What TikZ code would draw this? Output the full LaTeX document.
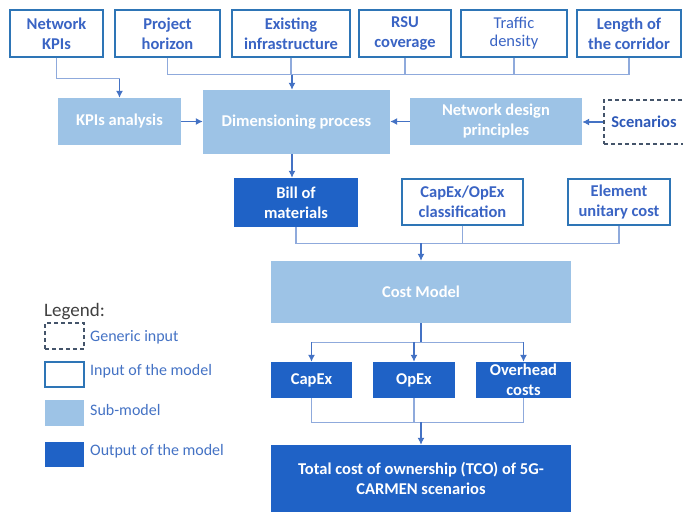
\documentclass[tikz,border=0pt]{standalone}
\usepackage{fontspec}
\setmainfont{Carlito}
\usetikzlibrary{arrows.meta}
\definecolor{inborder}{HTML}{2E75B6}
\definecolor{intext}{HTML}{3A64C4}
\definecolor{lightfill}{HTML}{9DC3E6}
\definecolor{darkfill}{HTML}{1F62C6}
\definecolor{feedc}{HTML}{8FAADC}
\definecolor{arrc}{HTML}{4472C4}
\definecolor{dashc}{HTML}{44546A}
\definecolor{legtext}{HTML}{4472C4}
\definecolor{legtitle}{HTML}{404040}
\definecolor{scentext}{HTML}{2E59B8}
\begin{document}
\begin{tikzpicture}[x=1pt,y=-1pt,
  base/.style={inner sep=0pt, align=center, font=\fontsize{16.5}{20}\selectfont\bfseries},
  inbox/.style={base, draw=inborder, line width=1.2pt, fill=white, text=intext},
  subbox/.style={base, fill=lightfill, text=white},
  outbox/.style={base, fill=darkfill, text=white},
  genbox/.style={base, draw=dashc, line width=1.2pt, dash pattern=on 4pt off 3pt, text=scentext},
  feed/.style={draw=feedc, line width=1.2pt},
  arr/.style={draw=arrc, line width=1.2pt, -{Latex[length=7pt,width=7pt]}},
  stem/.style={draw=arrc, line width=1.2pt},
  legtxt/.style={anchor=west, inner sep=0pt, text=legtext, font=\fontsize{16}{18}\selectfont}
]
\useasboundingbox (0,0) rectangle (683,514);

% top inputs
\node[inbox, minimum width=93pt, minimum height=47pt] (nk) at (56.5,33.5) {Network\\KPIs};
\node[inbox, minimum width=105pt, minimum height=47pt] (ph) at (167.5,33.5) {Project\\horizon};
\node[inbox, minimum width=118pt, minimum height=47pt] (ei) at (291,33.5) {Existing\\infrastructure};
\node[inbox, minimum width=92pt, minimum height=47pt] (rsu) at (405,33.5) {RSU\\coverage};
\node[inbox, minimum width=106pt, minimum height=47pt, font=\fontsize{16.5}{18}\selectfont] (td) at (514,33.5) {Traffic\\density};
\node[inbox, minimum width=104pt, minimum height=47pt] (lc) at (629,33.5) {Length of\\the corridor};

% second row
\node[subbox, minimum width=123pt, minimum height=47pt] (kpi) at (119.5,121.5) {KPIs analysis};
\node[subbox, minimum width=187pt, minimum height=64pt] (dp) at (296.5,122) {Dimensioning process};
\node[subbox, minimum width=172pt, minimum height=47pt] (ndp) at (496,121.5) {Network design\\principles};
\node[genbox, minimum width=80pt, minimum height=44pt] (sc) at (644,122) {Scenarios};

% third row
\node[outbox, minimum width=124pt, minimum height=49pt] (bom) at (296,202.5) {Bill of\\materials};
\node[inbox, minimum width=121pt, minimum height=46pt] (cox) at (462.5,202) {CapEx/OpEx\\classification};
\node[inbox, minimum width=102pt, minimum height=46pt] (euc) at (619,202) {Element\\unitary cost};

% cost model
\node[subbox, minimum width=300pt, minimum height=62pt] (cm) at (421,292) {Cost Model};

% outputs
\node[outbox, minimum width=81pt, minimum height=36pt] (capex) at (311.5,380) {CapEx};
\node[outbox, minimum width=82pt, minimum height=36pt] (opex) at (414,380) {OpEx};
\node[outbox, minimum width=95pt, minimum height=36pt] (ovh) at (523.5,380) {Overhead\\costs};

% TCO
\node[outbox, minimum width=300pt, minimum height=67pt] (tco) at (421,478.5) {Total cost of ownership (TCO) of 5G-\\CARMEN scenarios};

% connectors top
\path (nk.south) ++(0,21) coordinate (j1);
\draw[feed] (nk.south) -- (j1) -- (j1 -| kpi.north) -- ++(0,5);
\draw[arr] (j1 -| kpi.north) -- (kpi.north);

\path (ei.south) ++(1,17) coordinate (jt);
\draw[feed] (ph.south) -- (ph.south |- jt) -- (lc.south |- jt) -- (lc.south);
\draw[feed] (ei.south) -- (ei.south |- jt);
\draw[feed] (rsu.south) -- (rsu.south |- jt);
\draw[feed] (td.south) -- (td.south |- jt);
\draw[arr] (jt) -- (jt |- dp.north);

\draw[arr] (kpi.east) -- (kpi.east -| dp.west);
\draw[arr] (ndp.west) -- (ndp.west -| dp.east);
\draw[arr] (sc.west) -- (sc.west -| ndp.east);

\draw[arr] (jt |- dp.south) -- (jt |- bom.north);

% middle merge
\path (bom.south) ++(0,16) coordinate (jm);
\draw[feed] (bom.south) -- (jm) -- (jm -| euc.south) -- (euc.south);
\draw[feed] (cox.south) -- (cox.south |- jm);
\draw[arr] (jm -| cm.north) -- (cm.north);

% cost model branch
\path (cm.south) ++(0,19) coordinate (jb);
\draw[stem] (cm.south) -- (jb);
\draw[feed] (jb -| capex.north) -- (jb -| ovh.north);
\draw[arr] (jb -| capex.north) -- (capex.north);
\draw[arr] (jb -| opex.north) -- (opex.north);
\draw[arr] (jb -| ovh.north) -- (ovh.north);

% bottom merge
\path (capex.south) ++(0,24) coordinate (jo);
\draw[feed] (capex.south) -- (jo) -- (jo -| ovh.south) -- (ovh.south);
\draw[feed] (opex.south) -- (opex.south |- jo);
\draw[arr] (jo -| tco.north) -- (tco.north);

% legend
\node[anchor=base west, inner sep=0pt, text=legtitle, font=\fontsize{19}{22}\selectfont] (lgt) at (44,316) {Legend:};
\node[genbox, minimum width=39pt, minimum height=26pt] (lg1) at (64.5,336) {};
\node[legtxt] (lt1) at (90,337) {Generic input};
\node[inbox, minimum width=39pt, minimum height=25pt] (lg2) at (64.5,374.5) {};
\node[legtxt] (lt2) at (90,371) {Input of the model};
\node[subbox, minimum width=39pt, minimum height=26pt] (lg3) at (64.5,413) {};
\node[legtxt] (lt3) at (90,410) {Sub-model};
\node[outbox, minimum width=39pt, minimum height=25pt] (lg4) at (64.5,454.5) {};
\node[legtxt] (lt4) at (90,451) {Output of the model};
\end{tikzpicture}
\end{document}
